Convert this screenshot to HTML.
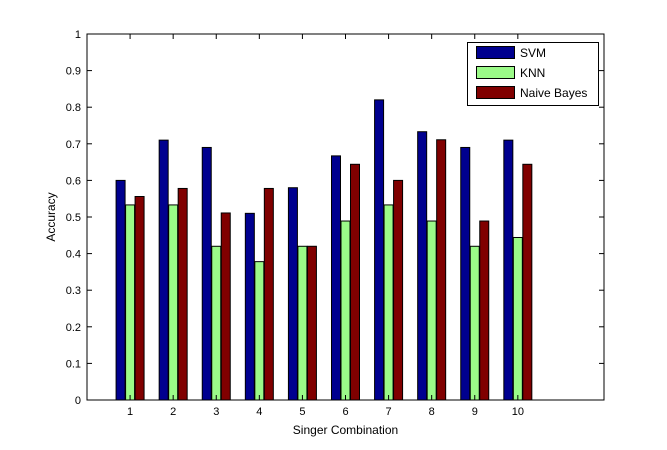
<!DOCTYPE html>
<html><head><meta charset="utf-8"><style>body{margin:0;background:#fff}svg{display:block;font-family:"Liberation Sans",sans-serif}</style></head>
<body>
<svg id="c" width="667" height="450"></svg>
<script>
const categories=["1","2","3","4","5","6","7","8","9","10"];
const svmValues=[0.6,0.71,0.69,0.51,0.58,0.667,0.82,0.733,0.69,0.71];
const knnValues=[0.533,0.533,0.42,0.378,0.42,0.489,0.533,0.489,0.42,0.444];
const nbValues=[0.556,0.578,0.511,0.578,0.42,0.644,0.6,0.711,0.489,0.644];
const yTicks=[0,0.1,0.2,0.3,0.4,0.5,0.6,0.7,0.8,0.9,1];
const seriesNames=["SVM","KNN","Naive Bayes"];
const L=87,R=604,T=34,B=400;
const xs=v=>L+(v/12)*(R-L);
const ys=v=>B-v*(B-T);
const svg=document.getElementById('c');
const NS="http://www.w3.org/2000/svg";
function mk(tag,a,p){const e=document.createElementNS(NS,tag);for(const k in a)e.setAttribute(k,a[k]);(p||svg).appendChild(e);return e;}
const bg=mk('rect',{x:L,y:T,width:R-L,height:B-T,fill:'#fff',stroke:'none'});


const colors=["#00008f","#9bfa88","#800000"];
const series=[svmValues,knnValues,nbValues];
const bw=9,off=9.5;
series.forEach((vals,s)=>{vals.forEach((v,i)=>{
 const cx=xs(i+1)+(s-1)*off;
 const r=mk('rect',{x:cx-bw/2,y:ys(v),width:bw,height:ys(0)-ys(v),fill:colors[s],stroke:'#000','stroke-width':1});
 
 
});});
const ax=mk('rect',{x:L,y:T,width:R-L,height:B-T,fill:'none',stroke:'#000','stroke-width':1});


yTicks.forEach(t=>{
 const y=ys(t);
 mk('line',{x1:L,x2:L+5,y1:y,y2:y,stroke:'#000'});
 mk('line',{x1:R,x2:R-5,y1:y,y2:y,stroke:'#000'});
 const tx=mk('text',{x:L-6,y:y+4,'text-anchor':'end','font-size':11});
 tx.textContent=String(t);
 
 
});
categories.forEach((c,i)=>{
 const x=xs(i+1);
 mk('line',{x1:x,x2:x,y1:B,y2:B-5,stroke:'#000'});
 mk('line',{x1:x,x2:x,y1:T,y2:T+5,stroke:'#000'});
 const tx=mk('text',{x:x,y:B+15,'text-anchor':'middle','font-size':11});
 tx.textContent=c;
 
 
});
const xt=mk('text',{x:(L+R)/2,y:434,'text-anchor':'middle','font-size':12});
xt.textContent="Singer Combination";


const yt=mk('text',{x:0,y:0,'text-anchor':'middle','font-size':12,transform:'translate(55,'+((T+B)/2)+') rotate(-90)'});
yt.textContent="Accuracy";


const lg=mk('g',{});


mk('rect',{x:467.5,y:42.5,width:131,height:63,fill:'#fff',stroke:'#000'},lg);
seriesNames.forEach((n,s)=>{
 const yy=46+s*20;
 const sw=mk('rect',{x:476.5,y:yy+0.5,width:38,height:12,fill:colors[s],stroke:'#000'},lg);
 
 
 const t=mk('text',{x:520,y:yy+11,'font-size':12},lg);
 t.textContent=n;
 
 
});
</script>
</body></html>
